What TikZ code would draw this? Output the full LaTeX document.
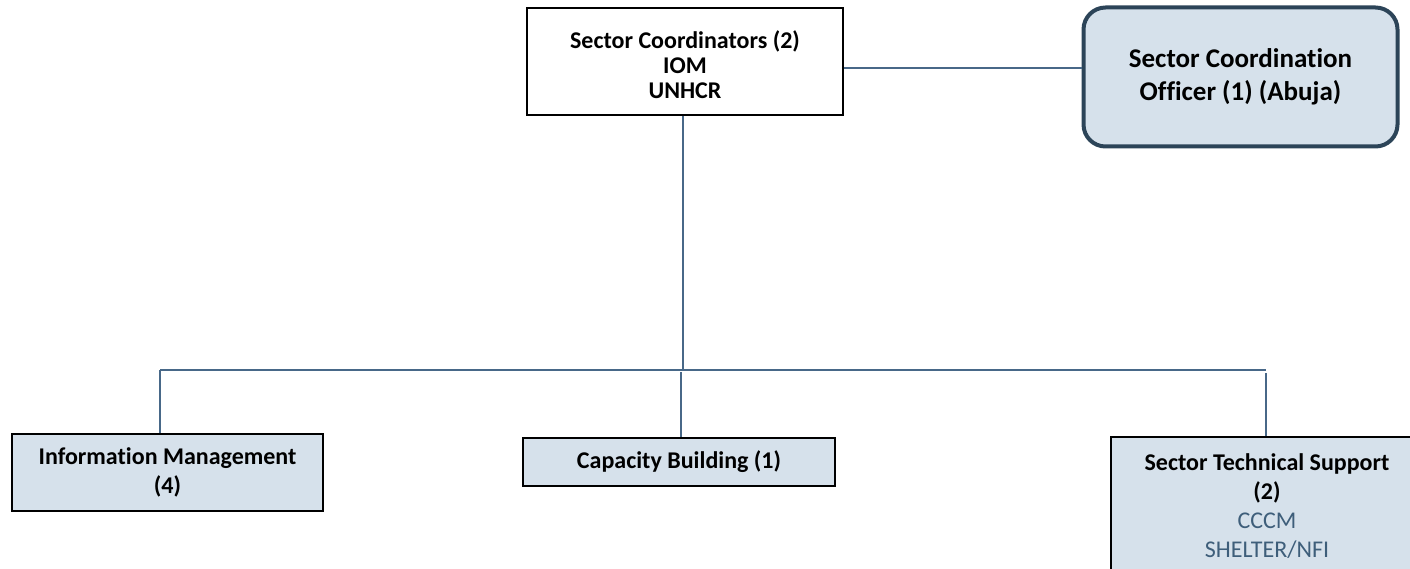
\documentclass[tikz,border=0pt]{standalone}
\usepackage{fontspec}
\setmainfont{Carlito}[Ligatures=NoCommon]
\definecolor{boxfill}{RGB}{214,225,235}
\definecolor{linkc}{RGB}{72,104,136}
\definecolor{darkb}{RGB}{44,68,88}
\definecolor{bluetxt}{RGB}{62,94,122}
\tikzset{
  plainbox/.style={draw=black, line width=2.2pt, fill=boxfill, align=center, font=\bfseries\fontsize{24}{29}\selectfont, inner sep=0pt},
  topbox/.style={draw=black, line width=2pt, fill=white, align=center, font=\bfseries\fontsize{24}{25}\selectfont, inner sep=0pt},
  roundbox/.style={draw=darkb, line width=4pt, fill=boxfill, rounded corners=22pt, align=center, font=\bfseries\fontsize{27}{33}\selectfont, inner sep=0pt},
  link/.style={draw=linkc, line width=2pt}
}
\begin{document}
\begin{tikzpicture}[x=1pt,y=-1pt]
\useasboundingbox (0,0) rectangle (1410,569);
\clip (0,0) rectangle (1410,569);
\node[topbox, minimum width=316pt, minimum height=107pt] (top) at (685,61.5) {\rule{0pt}{25pt}Sector Coordinators (2)\\IOM\\UNHCR};
\node[roundbox, minimum width=314pt, minimum height=139pt] (sco) at (1240.5,77) {Sector Coordination\\Officer (1) (Abuja)};
\node[plainbox, minimum width=311pt, minimum height=77pt] (im) at (167.5,472.5) {Information Management\\(4)};
\node[plainbox, minimum width=312pt, minimum height=48pt] (cb) at (679,462) {Capacity Building (1)};
\node[plainbox, minimum width=312pt, minimum height=138pt] (ts) at (1267,506) {Sector Technical Support\\(2)\\{\mdseries\color{bluetxt}CCCM}\\{\mdseries\color{bluetxt}SHELTER/NFI}};
\coordinate (jtop) at (683,370);
\coordinate (bl) at (160,370);
\coordinate (br) at (1266,370);
\coordinate (jcb) at (681,372);
\draw[link] (top.east |- 0,68) -- (sco.west |- 0,68);
\draw[link] (top.south -| jtop) -- (jtop);
\draw[link] (bl) -- (br);
\draw[link] (bl) -- (bl |- im.north);
\draw[link] (jcb) -- (jcb |- cb.north);
\draw[link] (1266,373) -- (1266,0 |- ts.north);
\end{tikzpicture}
\end{document}
